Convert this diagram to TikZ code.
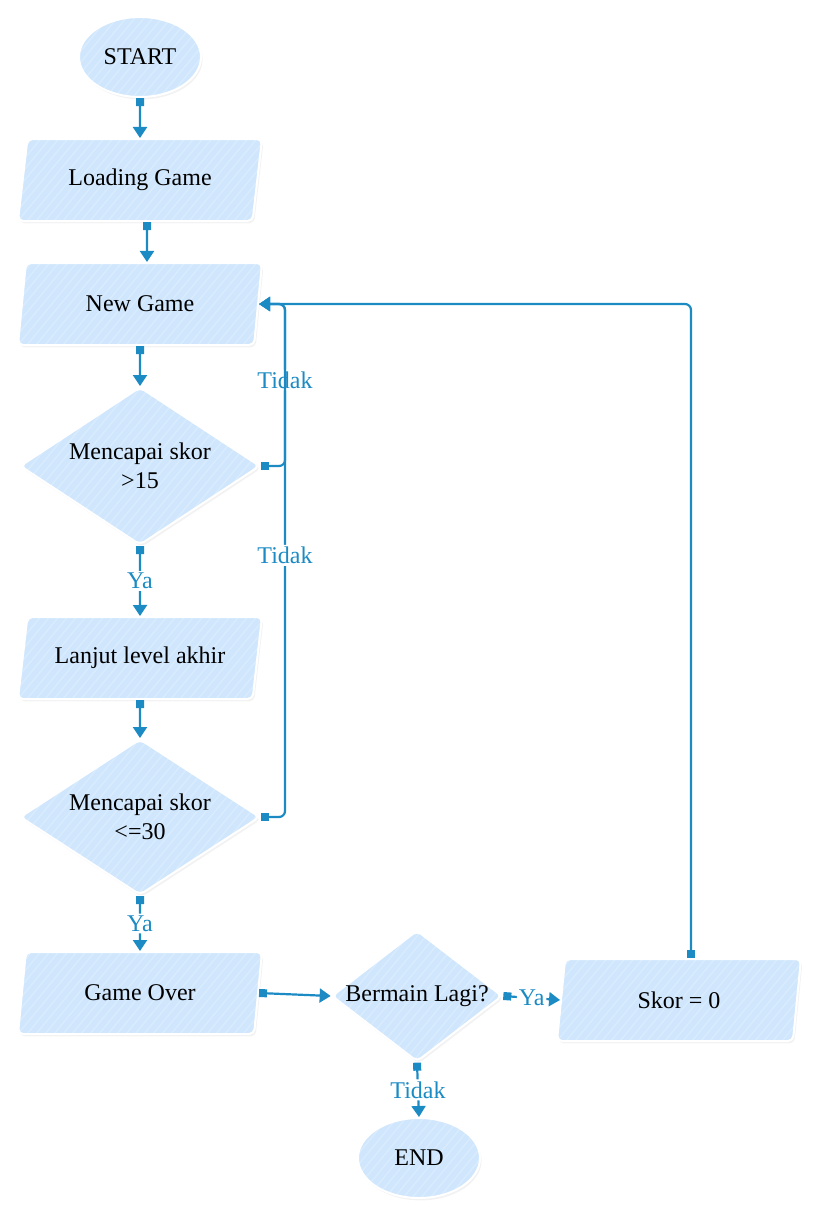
\documentclass[tikz,border=0pt]{standalone}
\usepackage{fontspec}
\setmainfont{Liberation Serif}
\usetikzlibrary{shapes.geometric,arrows.meta,shadows}
\definecolor{boxfill}{RGB}{207,230,253}
\definecolor{boxstripe}{RGB}{217,236,254}
\definecolor{linkblue}{RGB}{28,139,196}
\begin{document}
\begin{tikzpicture}[x=0.5pt,y=-0.5pt,
box/.style={draw=white,line width=1pt,rounded corners=2.5pt,fill=boxfill,drop shadow={opacity=0.1,shadow xshift=0.8pt,shadow yshift=-1.2pt},font=\fontsize{12}{14.5}\selectfont,align=center,
  path picture={\foreach \k in {-14,...,30} \draw[boxstripe,line width=0.7pt] ([xshift=\k*4.5pt]path picture bounding box.south west) -- ++(140,-170);}},
terminal/.style={box,ellipse,minimum width=61pt,minimum height=40pt},
io/.style={box,trapezium,trapezium left angle=75,trapezium right angle=105,trapezium stretches body,minimum width=122pt,minimum height=41pt},
decision/.style={box,diamond,aspect=1.5,inner sep=0pt},
link/.style={draw=linkblue,line width=1.1pt,rounded corners=3pt,{Square[length=4pt,width=4pt]}-{Triangle[length=5.5pt,width=7pt]}},
lbl/.style={fill=white,text=linkblue,inner sep=1pt,font=\fontsize{12}{14.5}\selectfont}]
\useasboundingbox (0,0) rectangle (829,1227);
\node[terminal] (start) at (140,57) {START};
\node[io] (loading) at (140,180) {Loading Game};
\node[io] (newgame) at (140,304) {New Game};
\node[decision,minimum width=120pt,minimum height=79pt] (cek1) at (140,466) {Mencapai skor\\>15};
\node[io] (lanjut) at (140,658) {Lanjut level akhir};
\node[decision,minimum width=120pt,minimum height=78pt] (cek2) at (140,817) {Mencapai skor\\<=30};
\node[io] (gameover) at (140,993) {Game Over};
\node[decision,aspect=1.3] (lagi) at (417,996) {Bermain Lagi?};
\node[io] (skor) at (679,1000) {Skor = 0};
\node[terminal] (stop) at (419,1158) {END};
\coordinate (loopx) at (285,0);
\draw[link] (start.south) -- (loading.north);
\draw[link] ([xshift=3.5pt]loading.south) -- ([xshift=3.5pt]newgame.north);
\draw[link] (newgame.south) -- (cek1.north);
\draw[link] (cek1.south) -- node[lbl] {Ya} (lanjut.north);
\draw[link] (lanjut.south) -- (cek2.north);
\draw[link] (cek2.south) -- node[lbl] {Ya} (gameover.north);
\draw[link] (gameover.east) -- (lagi.west);
\draw[link] (lagi.east) -- node[lbl] {Ya} (skor.west);
\draw[link] (lagi.south) -- node[lbl] {Tidak} (stop.north);
\draw[link] (cek1.east) -- (cek1.east -| loopx) -- node[lbl,pos=0.53] {Tidak} (newgame.east -| loopx) -- (newgame.east);
\draw[link] (cek2.east) -- (cek2.east -| loopx) -- node[lbl,pos=0.51] {Tidak} (newgame.east -| loopx) -- (newgame.east);
\draw[link] ([xshift=6pt]skor.north) -- ([xshift=6pt]skor.north |- newgame.east) -- (newgame.east);
\end{tikzpicture}
\end{document}
